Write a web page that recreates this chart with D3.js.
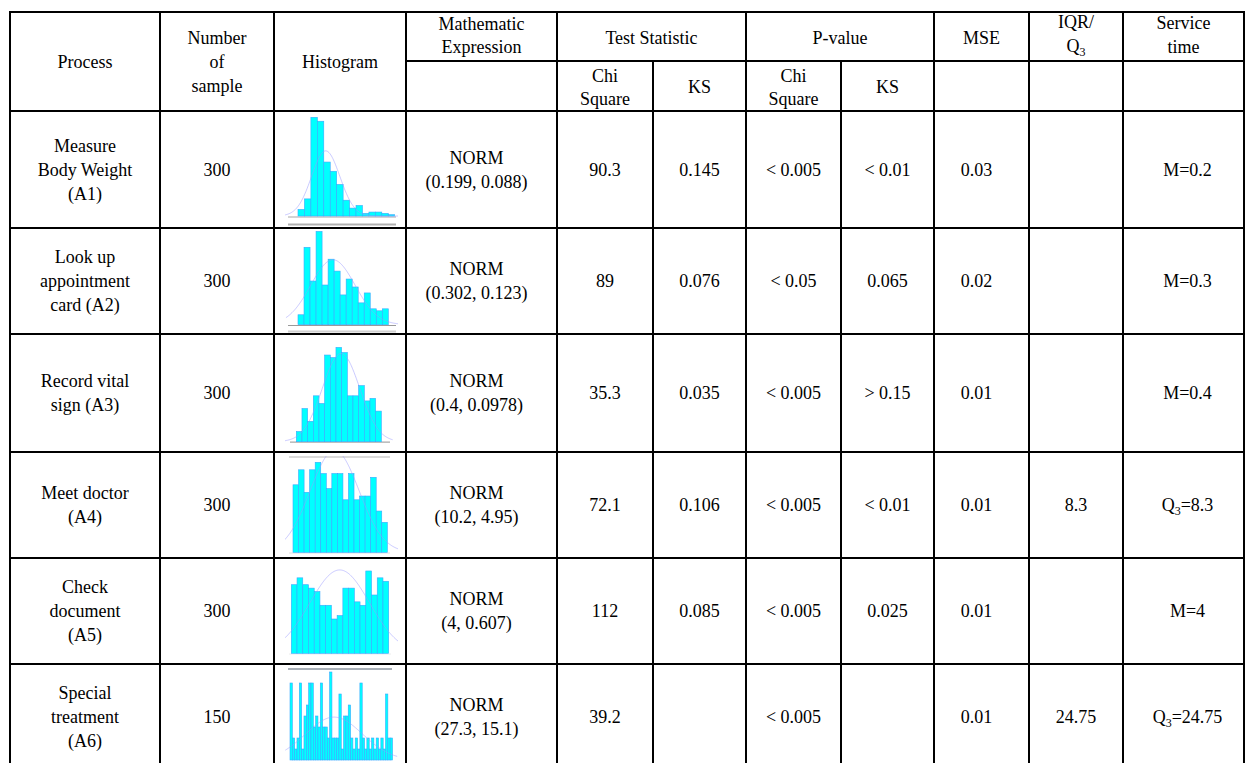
<!DOCTYPE html>
<html>
<head>
<meta charset="utf-8">
<script src="https://cdn.jsdelivr.net/npm/d3@7"></script>
<style>
  body { margin: 0; background: #fff; }
  svg { display: block; }
</style>
</head>
<body>
<div id="table"></div>
<script>
// Data
const processes = [['Measure', 'Body Weight', '(A1)'], ['Look up', 'appointment', 'card (A2)'], ['Record vital', 'sign (A3)'],
  ['Meet doctor', '(A4)'], ['Check', 'document', '(A5)'], ['Special', 'treatment', '(A6)']]
const sampleSizes = [300, 300, 300, 300, 300, 150]
const fitMeans = ['0.199', '0.302', '0.4', '10.2', '4', '27.3']
const fitSds = ['0.088', '0.123', '0.0978', '4.95', '0.607', '15.1']
const chiStat = ['90.3', '89', '35.3', '72.1', '112', '39.2']
const ksStat = ['0.145', '0.076', '0.035', '0.106', '0.085', '']
const chiP = ['< 0.005', '< 0.05', '< 0.005', '< 0.005', '< 0.005', '< 0.005']
const ksP = ['< 0.01', '0.065', '> 0.15', '< 0.01', '0.025', '']
const mse = ['0.03', '0.02', '0.01', '0.01', '0.01', '0.01']
const iqr = ['', '', '', '8.3', '', '24.75']
const serviceLabel = ['M', 'M', 'M', 'Q3', 'M', 'Q3']
const serviceValue = ['0.2', '0.3', '0.4', '8.3', '4', '24.75']

// histogram bin counts
const hist1 = [5, 13, 75, 72, 41, 34, 24, 12, 6, 8, 2, 3, 3, 2, 1]
const hist2 = [5, 39, 22, 47, 20, 33, 27, 15, 23, 19, 11, 16, 8, 7, 8]
const hist3 = [4, 13, 8, 18, 15, 34, 33, 37, 35, 18, 18, 22, 16, 17, 12]
const hist4 = [18, 22, 16, 22, 24, 21, 17, 21, 21, 14, 21, 14, 15, 15, 20, 11, 8]
const hist5 = [20, 22, 20, 19, 18, 14, 14, 10, 11, 19, 19, 15, 14, 24, 17, 22, 21]
const hist6 = [7, 2, 1, 2, 7, 1, 4, 5, 7, 7, 3, 4, 3, 7, 3, 3, 2, 8, 2, 2, 2, 6, 1, 4,
  4, 5, 2, 1, 2, 1, 7, 2, 1, 2, 1, 2, 1, 2, 1, 2, 1, 6, 2, 2]

// fitted normal curve per histogram: centre and spread in bins, peak in counts
const curveCentre = [4.3, 5.8, 7.9, 7.5, 8.45, 18.9]
const curveSpread = [2.2, 3.7, 3.3, 4.4, 5.2, 12.2]
const curvePeak = [49.5, 32.7, 34.6, 27.2, 24.3, 3.9]

// Layout
const width = 1246, height = 763
const cols = [10, 160, 274, 406, 557, 653, 746, 841, 934, 1029, 1123, 1244]
const rows = [111, 228, 334, 452, 558, 664, 772]
const fontSize = 18
const lineH = 24

const histBoxes = [
  { x0: 298, x1: 394.7, base: 216, unit: 1.316, clip: [285, 113, 113, 113],
    rules: [[217, 288, 396, '#c4c4c4', 1.5], [224.5, 288, 396, '#b0b0b0', 2]] },
  { x0: 298, x1: 388.3, base: 324.7, unit: 1.985, clip: [285, 230, 113, 103],
    rules: [[325.5, 288, 396, '#9a9a9a', 1.2], [331.5, 288, 396, '#d0d0d0', 2]] },
  { x0: 296.3, x1: 381.3, base: 441.7, unit: 2.549, clip: [285, 336, 113, 114],
    rules: [[442.2, 290, 390, '#a8a8a8', 1.2]] },
  { x0: 293, x1: 387.3, base: 552.3, unit: 3.75, clip: [285, 456, 113, 101],
    rules: [[457, 289, 390, '#b8b8b8', 1.2], [553, 289, 390, '#e0e0e0', 1]] },
  { x0: 291.3, x1: 388.7, base: 653.3, unit: 3.43, clip: [285, 560, 113, 102],
    rules: [[654, 289, 391, '#ececec', 1]] },
  { x0: 290, x1: 392.5, base: 760, unit: 11, clip: [285, 667, 113, 96],
    rules: [[669, 288, 392, '#a9b0b8', 2]] }
]
const hists = [hist1, hist2, hist3, hist4, hist5, hist6]

const svg = d3.select('#table')
  .append('svg')
  .attr('width', width)
  .attr('height', height)
  .attr('font-family', "'Liberation Serif', 'Times New Roman', Times, serif")

svg.append('rect').attr('width', width).attr('height', height).attr('fill', '#fff')

const colMid = i => (cols[i] + cols[i + 1]) / 2

// multi-line centred text
function cellText(x, yc, lines, step = lineH) {
  const t = svg.append('text')
    .attr('text-anchor', 'middle')
    .attr('font-size', fontSize)
    .attr('fill', '#000')
  lines.forEach((ln, k) => {
    const tsp = t.append('tspan')
      .attr('x', x)
      .attr('y', yc + (k - (lines.length - 1) / 2) * step + 6)
    if (Array.isArray(ln)) {
      // [main, subscript, rest]
      tsp.text(ln[0])
      tsp.append('tspan').attr('font-size', 12).attr('dy', 4).text(ln[1])
      if (ln[2]) tsp.append('tspan').attr('dy', -4).text(ln[2])
    } else {
      tsp.text(ln)
    }
  })
}

// header
cellText(colMid(0), 62, ['Process'])
cellText(colMid(1), 62, ['Number', 'of', 'sample'])
cellText(colMid(2), 62, ['Histogram'])
cellText(colMid(3), 35, ['Mathematic', 'Expression'], 23)
cellText((cols[4] + cols[6]) / 2, 38, ['Test Statistic'])
cellText((cols[6] + cols[8]) / 2, 38, ['P-value'])
cellText(colMid(8), 38, ['MSE'])
cellText(colMid(9), 34, ['IQR/', ['Q', '3', '']], 24)
cellText(colMid(10), 35, ['Service', 'time'], 24)
cellText(colMid(4), 87, ['Chi', 'Square'], 23)
cellText(colMid(5), 87, ['KS'])
cellText(colMid(6), 87, ['Chi', 'Square'], 23)
cellText(colMid(7), 87, ['KS'])

// body rows
processes.forEach((p, i) => {
  const yc = i === 5 ? 717 : (rows[i] + rows[i + 1]) / 2
  cellText(colMid(0), yc, p)
  cellText(colMid(1), yc, [String(sampleSizes[i])])
  cellText(colMid(3) - 5, yc, ['NORM', `(${fitMeans[i]}, ${fitSds[i]})`])
  cellText(colMid(4), yc, [chiStat[i]])
  if (ksStat[i]) cellText(colMid(5), yc, [ksStat[i]])
  cellText(colMid(6), yc, [chiP[i]])
  if (ksP[i]) cellText(colMid(7), yc, [ksP[i]])
  cellText(colMid(8) - 5, yc, [mse[i]])
  if (iqr[i]) cellText(colMid(9), yc, [iqr[i]])
  const lab = serviceLabel[i]
  cellText(colMid(10) + 4, yc, [lab === 'Q3' ? ['Q', '3', '=' + serviceValue[i]] : lab + '=' + serviceValue[i]])
})

// histograms
const defs = svg.append('defs')
hists.forEach((counts, i) => {
  const box = histBoxes[i]
  defs.append('clipPath').attr('id', 'clip' + i)
    .append('rect')
    .attr('x', box.clip[0]).attr('y', box.clip[1])
    .attr('width', box.clip[2]).attr('height', box.clip[3])

  const x = d3.scaleLinear().domain([0, counts.length]).range([box.x0, box.x1])
  const y = d3.scaleLinear().domain([0, 1]).range([box.base, box.base - box.unit])

  const g = svg.append('g').attr('clip-path', `url(#clip${i})`)

  g.selectAll('line.rule')
    .data(box.rules)
    .join('line')
    .attr('x1', d => d[1]).attr('x2', d => d[2])
    .attr('y1', d => d[0]).attr('y2', d => d[0])
    .attr('stroke', d => d[3])
    .attr('stroke-width', d => d[4])

  g.selectAll('rect.bar')
    .data(counts)
    .join('rect')
    .attr('x', (d, k) => x(k))
    .attr('y', d => y(d))
    .attr('width', (d, k) => x(k + 1) - x(k))
    .attr('height', d => y(0) - y(d))
    .attr('fill', '#00ffff')
    .attr('stroke', '#3aa8ff')
    .attr('stroke-width', 0.6)

  const line = d3.line()
    .x(t => x(t))
    .y(t => y(curvePeak[i] * Math.exp(-((t - curveCentre[i]) ** 2) / (2 * curveSpread[i] ** 2))))
  g.append('path')
    .attr('d', line(d3.range(-2, counts.length + 2.01, 0.1)))
    .attr('fill', 'none')
    .attr('stroke', '#9a9aff')
    .attr('stroke-width', 0.7)
    .attr('opacity', 0.75)
})

// grid lines
const grid = svg.append('g').attr('stroke', '#000').attr('stroke-width', 2)
const vlines = cols.map((c, i) => ({ x: c, y0: (i === 5 || i === 7) ? 61 : 12 }))
grid.selectAll('line.v')
  .data(vlines)
  .join('line')
  .attr('x1', d => d.x).attr('x2', d => d.x)
  .attr('y1', d => d.y0).attr('y2', height + 10)

const hlines = [{ y: 12, x0: cols[0] }, { y: 61, x0: cols[3] }].concat(rows.map(r => ({ y: r, x0: cols[0] })))
grid.selectAll('line.h')
  .data(hlines)
  .join('line')
  .attr('x1', d => d.x0 - 1).attr('x2', cols[cols.length - 1] + 1)
  .attr('y1', d => d.y).attr('y2', d => d.y)
</script>
</body>
</html>
